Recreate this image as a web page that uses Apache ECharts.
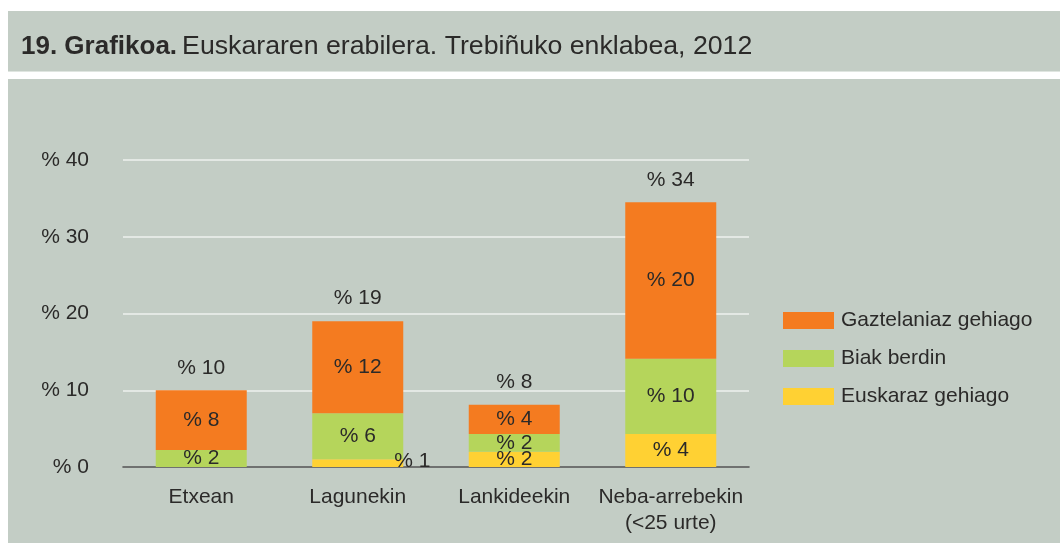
<!DOCTYPE html>
<html>
<head>
<meta charset="utf-8">
<script src="https://cdn.jsdelivr.net/npm/echarts@6/dist/echarts.min.js"></script>
<style>
html,body{margin:0;padding:0;background:#fff;}
#c{width:1060px;height:543px;}
</style>
</head>
<body>
<div id="c"></div>
<script>
const categories = ['Etxean', 'Lagunekin', 'Lankideekin', 'Neba-arrebekin\n(<25 urte)'];
const euskaraz = [0, 1, 2.0, 4.3];
const biak = [2.2, 6, 2.3, 9.8];
const gaztelania = [7.8, 12, 3.8, 20.4];
const totals = [10, 19, 8, 34];
const yTicks = [0, 10, 20, 30, 40];

const FONT = '"Liberation Sans", Arial, sans-serif';
const TXT = '#2b2a29';
const BG = '#c3cdc5';
const FS = 21;

const chart = echarts.init(document.getElementById('c'), null, {renderer: 'canvas'});

const segLabel = {
  show: true, position: 'inside', color: TXT, fontSize: FS, fontFamily: FONT,
  formatter: p => '% ' + Math.round(p.value)
};

const yellowData = euskaraz.map((v, i) => {
  if (v === 0) return {value: v, label: {show: false}};
  if (v < 1.5) return {value: v, label: {position: 'right', distance: 0, offset: [-9, -2]}};
  return v;
});

chart.setOption({
  backgroundColor: '#ffffff',
  animation: false,
  graphic: [
    {type: 'rect', z: -10, shape: {x: 8, y: 11, width: 1052, height: 60}, style: {fill: BG}},
    {type: 'rect', z: -10, shape: {x: 8, y: 71, width: 1052, height: 1}, style: {fill: '#dfe5e0'}},
    {type: 'rect', z: -10, shape: {x: 8, y: 79, width: 1052, height: 464}, style: {fill: BG}}
  ],
  title: {
    left: 21, top: 32, padding: 0,
    text: '{b|19. Grafikoa.} {n|Euskararen erabilera. Trebiñuko enklabea, 2012}',
    textStyle: {
      fontWeight: 'normal',
      rich: {
        b: {fontSize: 26, fontWeight: 'bold', color: TXT, fontFamily: FONT, lineHeight: 30},
        n: {fontSize: 26.7, fontWeight: 'normal', color: TXT, fontFamily: FONT, lineHeight: 30}
      }
    }
  },
  legend: {
    orient: 'vertical', left: 783, top: 310, padding: 0,
    itemWidth: 51, itemHeight: 17, itemGap: 17, icon: 'rect',
    data: ['Gaztelaniaz gehiago', 'Biak berdin', 'Euskaraz gehiago'],
    textStyle: {fontSize: FS, color: TXT, fontFamily: FONT, padding: [0, 0, 0, 2]}
  },
  grid: {left: 123, right: 311, top: 160, bottom: 76},
  xAxis: {
    type: 'category', data: categories,
    axisLine: {lineStyle: {color: '#4a4a4a', width: 1.5}},
    axisTick: {show: false},
    axisLabel: {color: TXT, fontSize: FS, fontFamily: FONT, margin: 17, lineHeight: 26, interval: 0}
  },
  yAxis: {
    type: 'value', min: 0, max: 40, interval: 10,
    axisLine: {show: false}, axisTick: {show: false},
    splitLine: {lineStyle: {color: '#eef1ee', width: 1.5}},
    axisLabel: {color: TXT, fontSize: FS, fontFamily: FONT, margin: 34,
      formatter: v => yTicks.includes(v) ? '% ' + v : ''}
  },
  series: [
    {name: 'Euskaraz gehiago', type: 'bar', stack: 's', barWidth: 91, data: yellowData,
      itemStyle: {color: '#ffd133'}, label: segLabel},
    {name: 'Biak berdin', type: 'bar', stack: 's', barWidth: 91, data: biak,
      itemStyle: {color: '#b5d55b'}, label: segLabel},
    {name: 'Gaztelaniaz gehiago', type: 'bar', stack: 's', barWidth: 91, data: gaztelania,
      itemStyle: {color: '#f47b20'}, label: segLabel},
    {name: 'total', type: 'bar', stack: 's', barWidth: 91, data: totals.map(() => 0),
      itemStyle: {color: 'transparent'}, silent: true,
      label: {show: true, position: 'top', distance: 12, color: TXT, fontSize: FS, fontFamily: FONT,
        formatter: p => '% ' + totals[p.dataIndex]}}
  ]
});
</script>
</body>
</html>
